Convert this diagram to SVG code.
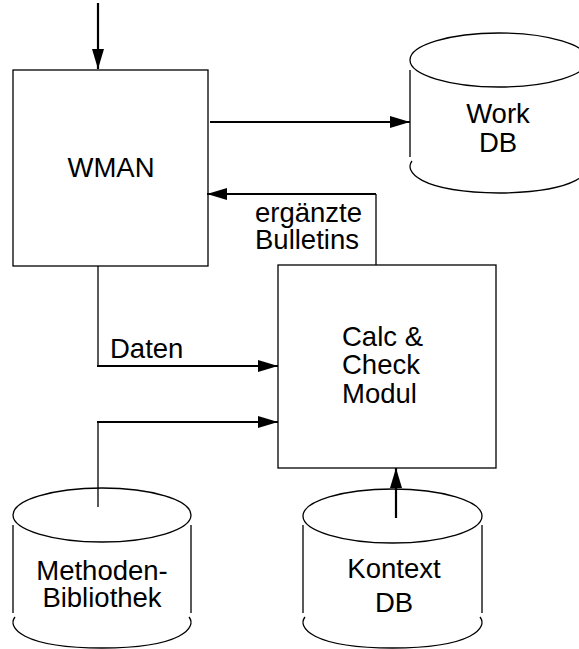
<svg xmlns="http://www.w3.org/2000/svg" width="579" height="649" viewBox="0 0 579 649">
<defs>
<style>
.box{fill:#fff;stroke:#000;stroke-width:1.3}
.cyl{fill:none;stroke:#000;stroke-width:1.3}
.thin{fill:none;stroke:#000;stroke-width:1.3}
.thick{fill:none;stroke:#000;stroke-width:2.2}
text{font-family:"Liberation Sans",Arial,Helvetica,sans-serif;font-size:27.5px;fill:#000}
.c{text-anchor:middle}
</style>
<marker id="ah" viewBox="0 0 20 12" refX="20" refY="6" markerWidth="20" markerHeight="12" markerUnits="userSpaceOnUse" orient="auto">
<path d="M0,0 L20,6 L0,12 Z" fill="#000"/>
</marker>
</defs>
<rect width="579" height="649" fill="#fff"/>

<g id="wman">
<rect class="box" x="13" y="70" width="195" height="196"/>
<text class="c" x="111" y="177">WMAN</text>
</g>

<g id="workdb">
<ellipse class="cyl" cx="499" cy="60" rx="89" ry="27"/>
<path class="cyl" d="M410,70 V157 M588,70 V157"/>
<path class="cyl" d="M412,161 C404,171 418,192 499,193 C580,192 594,171 586,161"/>
<text class="c" x="498" y="123">Work</text>
<text class="c" x="498" y="152">DB</text>
</g>

<g id="calc">
<rect class="box" x="278" y="265" width="218" height="203"/>
<text x="342" y="346">Calc &amp;</text>
<text x="342" y="374">Check</text>
<text x="342" y="403">Modul</text>
</g>

<g id="methoden">
<ellipse class="cyl" cx="102" cy="515" rx="89" ry="27"/>
<path class="cyl" d="M13,525 V613 M191,525 V613"/>
<path class="cyl" d="M15,617 C7,627 21,648 102,648 C183,648 197,627 189,617"/>
<text class="c" x="102" y="580">Methoden-</text>
<text class="c" x="102" y="607">Bibliothek</text>
</g>

<g id="kontext">
<ellipse class="cyl" cx="392.5" cy="516" rx="89.5" ry="27"/>
<path class="cyl" d="M303,525 V613 M482,525 V613"/>
<path class="cyl" d="M305,617 C297,627 311,648 392.5,648 C474,648 488,627 480,617"/>
<text class="c" x="394" y="578">Kontext</text>
<text class="c" x="394" y="612">DB</text>
</g>

<g id="connectors">
<line class="thick" x1="98" y1="3" x2="98" y2="69" marker-end="url(#ah)"/>
<line class="thick" x1="210" y1="122" x2="410" y2="122" marker-end="url(#ah)"/>
<path class="thin" d="M376,265 V194"/>
<line class="thick" x1="376" y1="194" x2="207" y2="194" marker-end="url(#ah)"/>
<path class="thin" d="M98,266 V366"/>
<line class="thick" x1="97" y1="366" x2="278" y2="366" marker-end="url(#ah)"/>
<path class="thin" d="M98,507 V422"/>
<line class="thick" x1="97" y1="422" x2="278" y2="422" marker-end="url(#ah)"/>
<line class="thick" x1="396" y1="518" x2="396" y2="468" marker-end="url(#ah)"/>
<text x="255" y="222">ergänzte</text>
<text x="255" y="249">Bulletins</text>
<text x="110" y="358">Daten</text>
</g>
</svg>
